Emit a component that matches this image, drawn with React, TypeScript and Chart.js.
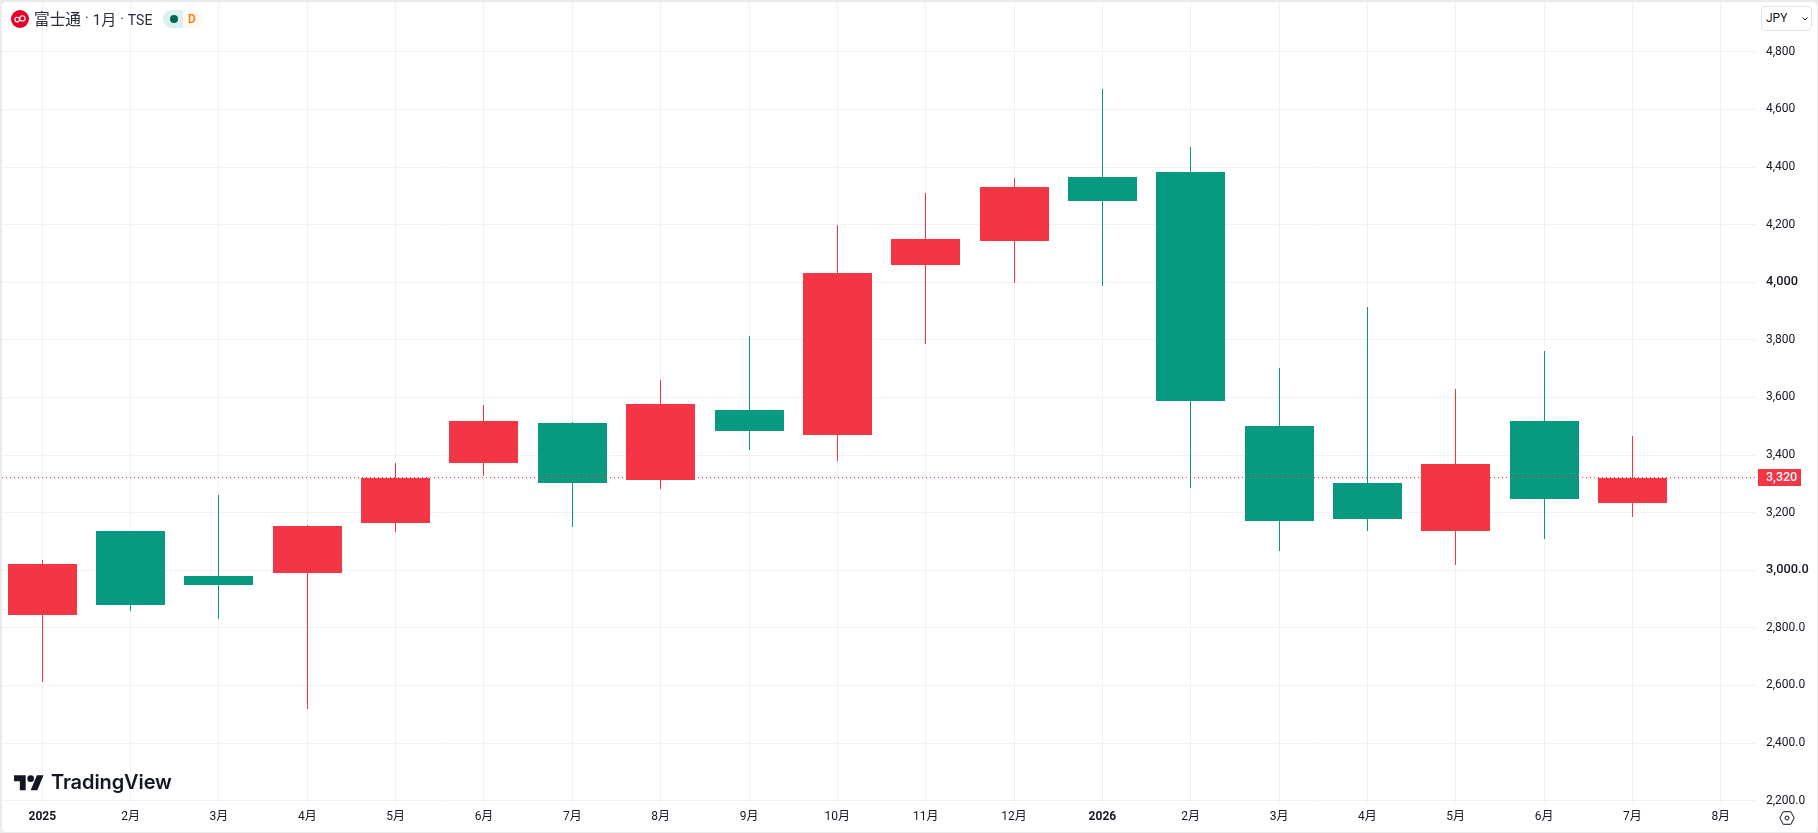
import React, { useEffect, useRef } from "react";
import { Chart, registerables } from "chart.js";

Chart.register(...registerables);

const monthLabels = ["2025","2月","3月","4月","5月","6月","7月","8月","9月","10月","11月","12月","2026","2月","3月","4月","5月","6月","7月","8月"];
const opens  = [2845,3136,2980,2991,3164,3371,3513,3312,3555,3468,4060,4143,4365,4382,3500,3303,3136,3517,3233];
const highs  = [3036,3136,3261,3157,3372,3575,3516,3662,3815,4200,4310,4362,4670,4469,3701,3915,3628,3760,3465];
const lows   = [2613,2859,2831,2520,3133,3326,3149,3281,3419,3381,3786,3998,3987,3287,3067,3136,3018,3109,3185];
const closes = [3022,2880,2949,3154,3320,3520,3302,3579,3482,4033,4150,4330,4282,3589,3171,3178,3368,3247,3320];
const priceTicks = [4800,4600,4400,4200,4000,3800,3600,3400,3200,3000,2800,2600,2400,2200];
const priceLabels = ["4,800","4,600","4,400","4,200","4,000","3,800","3,600","3,400","3,200","3,000.0","2,800.0","2,600.0","2,400.0","2,200.0"];
const boldPrices = [4000, 3000];
const boldMonths = ["2025", "2026"];
const lastPriceLabel = "3,320";

const UP = "#F23645";
const DOWN = "#089981";
const INK = "#131722";
const GRID = "#f0f1f3";
const FONT = "Roboto, 'Noto Sans CJK JP', sans-serif";

const X_MIN = -0.4562;
const X_MAX = 19.399;
const Y_MIN = 2199;
const Y_MAX = 4973;

const candleColor = (i: number) => (closes[i] >= opens[i] ? UP : DOWN);

export default function App() {
  const ref = useRef<HTMLCanvasElement | null>(null);

  useEffect(() => {
    document.body.style.margin = "0";
    const canvas = ref.current;
    if (!canvas) return;

    const snapMarks = {
      id: "snapMarks",
      afterDatasetsUpdate(chart: any) {
        chart.getSortedVisibleDatasetMetas().forEach((meta: any) => {
          meta.data.forEach((el: any) => {
            if (meta.type === "bar") {
              el.x = Math.round(el.x - 0.5) + 0.5;
              el.y = Math.round(el.y);
              el.base = Math.round(el.base);
            } else {
              el.x = Math.round(el.x);
              el.y = Math.floor(el.y - 0.5) + 0.5;
            }
          });
        });
      },
    };

    const priceTag = {
      id: "priceTag",
      afterDraw(chart: any) {
        const { ctx, scales } = chart;
        const y = scales.y.getPixelForValue(closes[closes.length - 1]);
        ctx.save();
        ctx.fillStyle = UP;
        ctx.fillRect(1758, Math.round(y) - 9, 43, 17);
        ctx.fillStyle = "#ffffff";
        ctx.font = `500 12.5px ${FONT}`;
        ctx.textAlign = "left";
        ctx.textBaseline = "middle";
        ctx.fillText(lastPriceLabel, 1766, Math.round(y));
        ctx.restore();
      },
    };

    const chart = new Chart(canvas, {
      type: "bar",
      data: {
        datasets: [
          {
            type: "line",
            order: 0,
            data: [
              { x: X_MIN, y: closes[closes.length - 1] },
              { x: X_MAX, y: closes[closes.length - 1] },
            ],
            borderColor: UP,
            borderWidth: 1,
            borderDash: [1, 3],
            pointRadius: 0,
          },
          {
            type: "bar",
            order: 1,
            data: opens.map((o, i) => ({ x: i, y: [o, closes[i]] })),
            backgroundColor: opens.map((_, i) => candleColor(i)),
            barThickness: 69,
            grouped: false,
            borderWidth: 0,
            inflateAmount: 0,
          },
          {
            type: "bar",
            order: 2,
            data: lows.map((l, i) => ({ x: i, y: [l, highs[i]] })),
            backgroundColor: opens.map((_, i) => candleColor(i)),
            barThickness: 1,
            grouped: false,
            borderWidth: 0,
            inflateAmount: 0,
          },
        ] as any,
      },
      options: {
        responsive: false,
        animation: false,
        layout: { padding: { left: 2, top: 2, right: 0, bottom: 0 } },
        plugins: { legend: { display: false }, tooltip: { enabled: false } },
        scales: {
          x: {
            type: "linear",
            min: X_MIN,
            max: X_MAX,
            offset: false,
            afterBuildTicks: (axis: any) => {
              axis.ticks = monthLabels.map((_, i) => ({ value: i }));
            },
            afterFit: (axis: any) => {
              axis.height = 32;
              axis.paddingLeft = 0;
              axis.paddingRight = 0;
            },
            border: { display: false },
            grid: { color: GRID, lineWidth: 1, offset: false, drawTicks: true, tickLength: 3, tickColor: GRID },
            ticks: {
              autoSkip: false,
              maxRotation: 0,
              padding: 6,
              color: INK,
              font: (ctx: any) => ({
                family: FONT,
                size: 12,
                weight: boldMonths.includes(monthLabels[ctx.tick?.value]) ? 700 : 400,
              }),
              callback: (v: any) => monthLabels[v],
            },
          },
          y: {
            type: "linear",
            position: "right",
            min: Y_MIN,
            max: Y_MAX,
            afterBuildTicks: (axis: any) => {
              axis.ticks = priceTicks.map((value) => ({ value }));
            },
            afterFit: (axis: any) => {
              axis.width = 62;
              axis.paddingTop = 0;
              axis.paddingBottom = 0;
            },
            border: { display: false },
            grid: { color: GRID, lineWidth: 1, drawTicks: false },
            ticks: {
              padding: 10,
              crossAlign: "near",
              color: INK,
              font: (ctx: any) => {
                const major = boldPrices.includes(ctx.tick?.value);
                return { family: FONT, size: major ? 12.8 : 12, weight: major ? 500 : 400 };
              },
              callback: (_: any, i: number) => priceLabels[i],
            },
          },
        },
      } as any,
      plugins: [snapMarks, priceTag],
    });
    return () => chart.destroy();
  }, []);

  return (
    <div style={{ position: "absolute", left: 0, top: 0, width: 1818, height: 833, background: "#ebebeb", overflow: "hidden", fontFamily: FONT, color: INK }}>
      <div style={{ position: "absolute", left: 2, top: 2, width: 1815, height: 830, background: "#fff", borderRadius: 4 }} />
      <canvas ref={ref} width={1818} height={833} style={{ position: "absolute", left: 0, top: 0, width: 1818, height: 833 }} />

      {/* header */}
      <svg width="18" height="18" viewBox="0 0 18 18" style={{ position: "absolute", left: 11, top: 10 }}>
        <circle cx="9" cy="9" r="9" fill="#E60027" />
        <circle cx="6.2" cy="9.6" r="2.3" fill="none" stroke="#fff" strokeWidth="1.1" />
        <circle cx="11.4" cy="8.4" r="2.6" fill="none" stroke="#fff" strokeWidth="1.1" />
      </svg>
      <div style={{ position: "absolute", left: 34, top: 9, height: 22, lineHeight: "22px", fontSize: 14, whiteSpace: "nowrap", color: "#2a2e39" }}>
        <span style={{ fontSize: 15.7 }}>富士通</span>
        <span style={{ margin: "0 4px", position: "relative", top: -2 }}>·</span>
        <span style={{ fontSize: 15 }}>1月</span>
        <span style={{ margin: "0 4px", position: "relative", top: -1 }}>·</span>
        <span>TSE</span>
      </div>
      <div style={{ position: "absolute", left: 163, top: 10, width: 40, height: 18, borderRadius: 9, overflow: "hidden", display: "flex" }}>
        <div style={{ width: 20, background: "#daf1ed", position: "relative" }}>
          <div style={{ position: "absolute", left: 7, top: 5, width: 8, height: 8, borderRadius: 4, background: "#056656" }} />
        </div>
        <div style={{ width: 20, background: "#fff8f0", color: "#F57C00", fontSize: 12, fontWeight: 500, lineHeight: "18px", textAlign: "center", paddingRight: 2, boxSizing: "border-box" }}>D</div>
      </div>

      {/* currency */}
      <div style={{ position: "absolute", left: 1761, top: 6, width: 51, height: 25, boxSizing: "border-box", border: "1px solid #e0e3eb", borderRadius: 4, background: "#fff", fontSize: 12, lineHeight: "23px", paddingLeft: 4 }}>
        JPY
        <svg width="6" height="4" viewBox="0 0 6 4" style={{ position: "absolute", left: 40, top: 10 }}>
          <path d="M0.5 0.5 L3 3 L5.5 0.5" fill="none" stroke={INK} strokeWidth="1" />
        </svg>
      </div>

      {/* logo */}
      <svg width="30" height="23.3" viewBox="0 0 36 28" style={{ position: "absolute", left: 14, top: 771.7 }}>
        <path d="M14 22H7V11H0V4h14v18ZM28 22h-8l7.5-18h8L28 22Z" fill={INK} />
        <circle cx="20" cy="8" r="4" fill={INK} />
      </svg>
      <div style={{ position: "absolute", left: 51, top: 770, fontFamily: "Inter, sans-serif", fontWeight: 600, fontSize: 20, lineHeight: "24px", letterSpacing: -0.1, color: INK }}>
        TradingView
      </div>

      {/* settings */}
      <svg width="16" height="14" viewBox="0 0 16 14" style={{ position: "absolute", left: 1779, top: 811 }}>
        <path d="M4.2 0.7 H11.8 L15.2 7 L11.8 13.3 H4.2 L0.8 7 Z" fill="none" stroke={INK} strokeWidth="1" />
        <circle cx="8" cy="7" r="2" fill="none" stroke={INK} strokeWidth="1" />
      </svg>
    </div>
  );
}
